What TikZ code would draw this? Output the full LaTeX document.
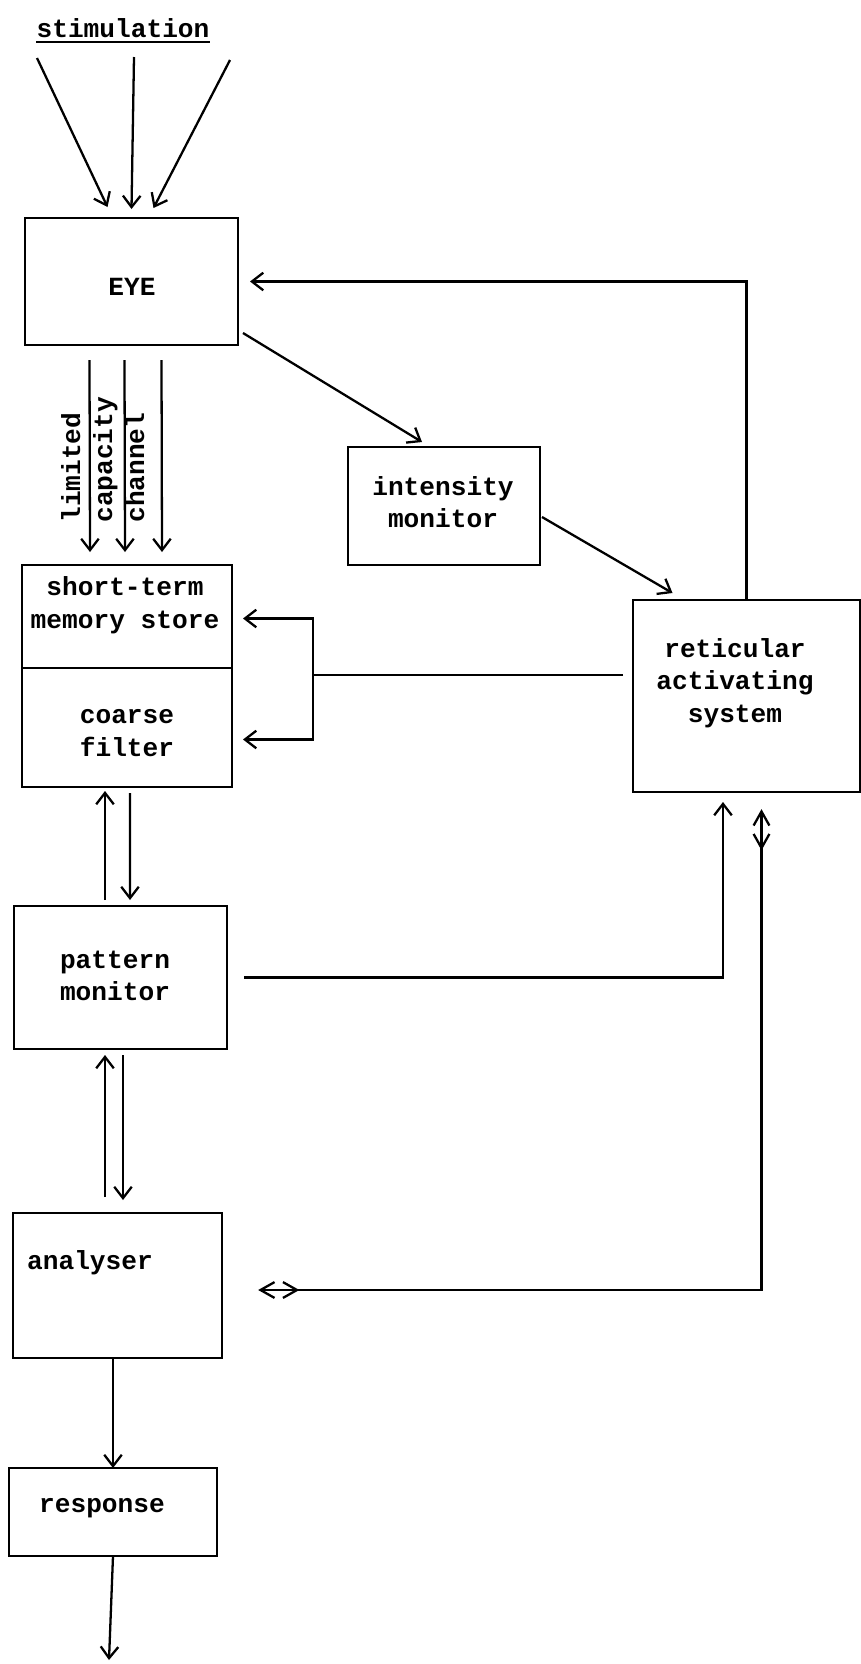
\documentclass[tikz,border=0pt]{standalone}
\usepackage{fontspec}
\setmainfont{Liberation Mono}
\usetikzlibrary{arrows.meta,calc}

\tikzset{
  box/.style={draw, line width=1.3pt, inner sep=0pt, outer sep=0pt},
  sized/.style 2 args={minimum width=#1*0.02cm, minimum height=#2*0.02cm},
  txt/.style={font=\bfseries\fontsize{14.9}{18.5}\selectfont, align=center, inner sep=0pt},
  wire/.style={line width=1.3pt},
  arr/.style={line width=1.3pt, -{Straight Barb[length=6.5pt,width=10pt]}},
  twoway/.style={line width=1.3pt,
    {Straight Barb[length=8pt,width=9pt,sep=3.5pt] Straight Barb[reversed,length=8pt,width=9pt,sep=3.5pt]}-{Straight Barb[reversed,length=8pt,width=9pt,sep=3.5pt] Straight Barb[length=8pt,width=9pt,sep=3.5pt]}},
}

\begin{document}
\begin{tikzpicture}[x=0.02cm, y=-0.02cm]
\useasboundingbox (0,0) rectangle (861,1664);

% boxes
\node[box, sized={213}{127}] (eye) at (131.5,281.5) {};
\node[box, sized={192}{118}] (imon) at (444,506) {};
\node[box, sized={210}{103}] (stm) at (127,616.5) {};
\node[box, sized={210}{119}] (coarse) at (127,727.5) {};
\node[box, sized={227}{192}] (ras) at (746.5,696) {};
\node[box, sized={213}{143}] (pat) at (120.5,977.5) {};
\node[box, sized={209}{145}] (ana) at (117.5,1285.5) {};
\node[box, sized={208}{88}] (resp) at (113,1512) {};

% texts
\node[txt, anchor=base] (stim) at (123,37) {stimulation};
\draw[line width=1pt] ([yshift=-3pt]stim.base west) -- ([yshift=-3pt]stim.base east);
\node[txt] (eye-t) at (132,287) {EYE};
\node[txt] (imon-t) at (443,502) {intensity\\monitor};
\node[txt] (stm-t) at (125,605) {short-term\\memory store};
\node[txt] (coarse-t) at (127,733) {coarse\\filter};
\node[txt] (ras-t) at (735,683) {reticular\\activating\\system};
\node[txt] (pat-t) at (115,976) {pattern\\monitor};
\node[txt] (ana-t) at (90,1263) {analyser};
\node[txt] (resp-t) at (102,1508) {response};
\node[txt, rotate=90, anchor=base west] (lim) at (80,523) {limited};
\node[txt, rotate=90, anchor=base west] (cap) at (112,523) {capacity};
\node[txt, rotate=90, anchor=base west] (chan) at (144,523) {channel};

% stimulation into the eye
\coordinate (s1) at (37,58);
\coordinate (s2) at (134,57);
\coordinate (s3) at (230,60);
\draw[arr] (s1) -- ($(eye.north)+(-24,-11)$);
\draw[arr] (s2) -- ($(eye.north)+(0,-9)$);
\draw[arr] (s3) -- ($(eye.north)+(22,-10)$);

% channel
\draw[arr] ($(eye.south)+(-42,15)$) -- ($(stm.north)+(-37,-13)$);
\draw[arr] ($(eye.south)+(-7,15)$) -- ($(stm.north)+(-2,-13)$);
\draw[arr] ($(eye.south)+(30,15)$) -- ($(stm.north)+(35,-13)$);

% intensity path
\draw[arr] ($(eye.south east)+(5,-12)$) -- ($(imon.north)+(-22,-5)$);
\draw[arr] ($(imon.east)+(2,11)$) -- ($(ras.north)+(-74,-7)$);
\draw[arr] (ras.north) |- ($(eye.east)+(12,0)$);

% ras back to store and filter
\coordinate (jn) at (313,675);
\draw[wire] ($(ras.west)+(-10,-21)$) -- (jn);
\draw[arr] (jn) |- ($(stm.east)+(11,2)$);
\draw[arr] (jn) |- ($(coarse.east)+(11,12)$);

% filter and pattern monitor
\draw[arr] ($(coarse.south)+(3,6)$) -- ($(pat.north)+(9.5,-6)$);
\draw[arr] ($(pat.north)+(-15.5,-6)$) -- ($(coarse.south)+(-22,4)$);

% pattern monitor and analyser
\draw[arr] ($(ana.north)+(-12.5,-16)$) -- ($(pat.south)+(-15.5,6)$);
\draw[arr] ($(pat.south)+(2.5,6)$) -- ($(ana.north)+(5.5,-13)$);

% links with ras
\draw[arr] ($(pat.east)+(17,0)$) -| ($(ras.south)+(-23.5,10)$);
\draw[twoway] ($(ras.south)+(15,11)$) |- ($(ana.east)+(30,4.5)$);

% output
\draw[arr] (ana.south -| resp.north) -- (resp.north);
\coordinate (out) at (109,1660);
\draw[arr] (resp.south) -- (out);
\end{tikzpicture}
\end{document}
